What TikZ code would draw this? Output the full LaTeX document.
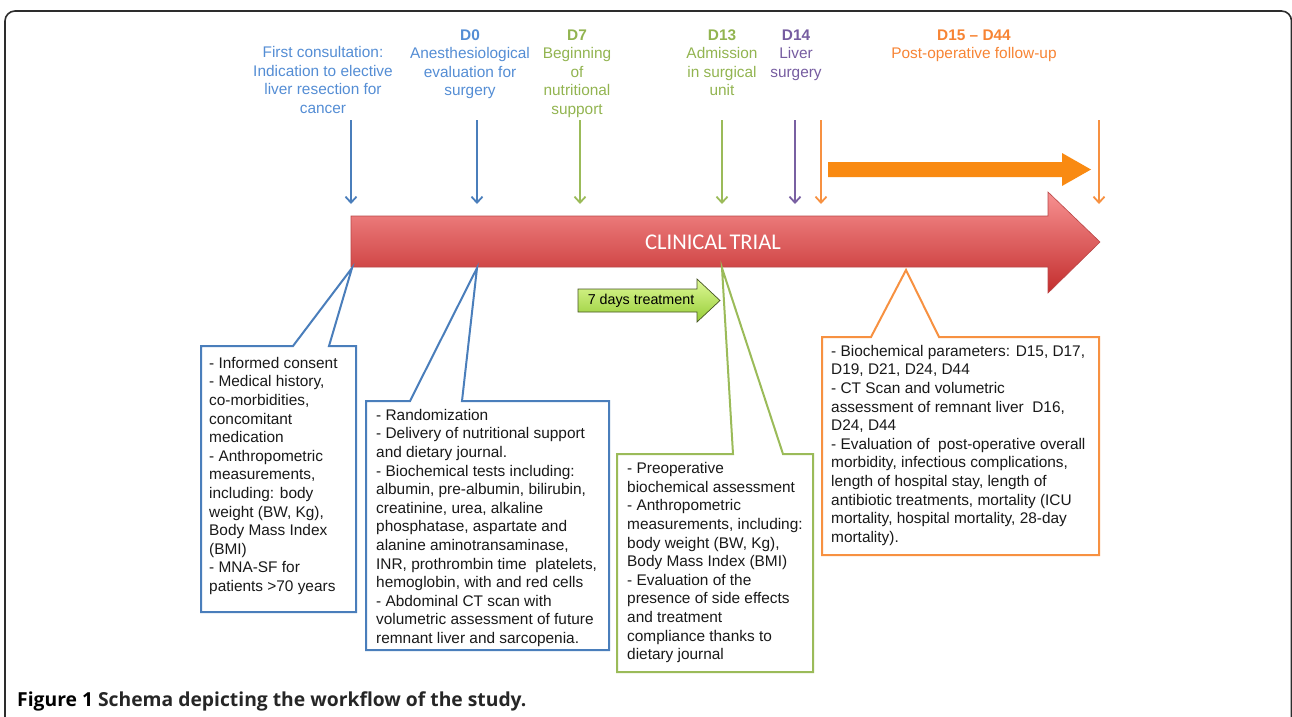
\documentclass[tikz,border=0pt]{standalone}
\usepackage{fontspec}
\setmainfont{Liberation Sans}
\newfontfamily\ctfont{Carlito}
\newfontfamily\capfont{Open Sans}
\usetikzlibrary{arrows.meta}
\definecolor{framec}{RGB}{45,45,45}
\definecolor{bl}{RGB}{74,126,187}
\definecolor{blt}{RGB}{84,141,212}
\definecolor{gr}{RGB}{155,187,89}
\definecolor{grt}{RGB}{146,180,80}
\definecolor{pu}{RGB}{121,96,162}
\definecolor{put}{RGB}{118,92,160}
\definecolor{orl}{RGB}{247,145,65}
\definecolor{ort}{RGB}{247,132,52}
\definecolor{orf}{RGB}{249,138,18}
\definecolor{redtop}{RGB}{247,145,145}
\definecolor{redbot}{RGB}{195,45,45}
\definecolor{redline}{RGB}{185,70,70}
\definecolor{grtop}{RGB}{222,248,150}
\definecolor{grbot}{RGB}{150,205,55}
\definecolor{grline}{RGB}{70,85,35}
\newcommand\lblsize{\fontsize{15.4}{18.6}\selectfont}
\tikzset{
  lbl/.style={font=\lblsize, align=center, inner sep=0pt, anchor=north},
  tick/.style={line width=1.8pt, -{Straight Barb[length=6pt,width=11pt]}},
  callout/.style={line width=2pt, fill=white, line join=miter},
  boxtxt/.style={font=\lblsize, align=left, inner sep=0pt, anchor=north west, text=black!90},
}
\begin{document}
\begin{tikzpicture}[x=1pt,y=-1pt]
\useasboundingbox (0,0) rectangle (1292,716);
\begin{scope}
\clip (0,0) rectangle (1292,716);
\draw[line width=1.6pt, draw=framec, rounded corners=10pt] (5,11) rectangle (1291.5,740);
\end{scope}

% top labels
\node[lbl, text=blt] (l0) at (323,46.1) {First consultation:\\Indication to elective\\liver resection for\\cancer};
\node[lbl, text=blt] (l1) at (470,29.2) {\textbf{D0}\\Anesthesiological\\evaluation for\\surgery};
\node[lbl, text=grt] (l2) at (577,29.2) {\textbf{D7}\\Beginning\\of\\nutritional\\support};
\node[lbl, text=grt] (l3) at (722,29.2) {\textbf{D13}\\Admission\\in surgical\\unit};
\node[lbl, text=put] (l4) at (796,29.2) {\textbf{D14}\\Liver\\surgery};
\node[lbl, text=ort] (l5) at (974,29.2) {\textbf{D15 – D44}\\Post-operative follow-up};

% tick arrows
\coordinate (a0s) at (351,120); \coordinate (a0e) at (351,204);
\coordinate (a1s) at (477,120); \coordinate (a1e) at (477,204);
\coordinate (a2s) at (580,120); \coordinate (a2e) at (580,204);
\coordinate (a3s) at (722,120); \coordinate (a3e) at (722,204);
\coordinate (a4s) at (795,120); \coordinate (a4e) at (795,204);
\coordinate (a5s) at (821,120); \coordinate (a5e) at (821,204);
\coordinate (a6s) at (1099,120); \coordinate (a6e) at (1099,204);
\draw[tick, bl] (a0s) -- (a0e);
\draw[tick, bl] (a1s) -- (a1e);
\draw[tick, gr] (a2s) -- (a2e);
\draw[tick, gr] (a3s) -- (a3e);
\draw[tick, pu] (a4s) -- (a4e);
\draw[tick, orl] (a5s) -- (a5e);
\draw[tick, orl] (a6s) -- (a6e);

% thick orange arrow
\fill[orf] (828,162) -- (1062,162) -- (1062,153) -- (1091,169.5) -- (1062,186) -- (1062,177) -- (828,177) -- cycle;

% clinical trial arrow
\shade[top color=redtop, bottom color=redbot, draw=redline, line width=0.6pt]
  (351,216) -- (1048,216) -- (1048,192) -- (1100,242) -- (1048,293) -- (1048,267) -- (351,267) -- cycle;
\node[font=\ctfont\fontsize{22.5}{26}\selectfont, text=white, inner sep=0pt] (ct) at (713,242) {CLINICAL\kern-2.5pt\ TRIAL};

\coordinate (t1) at (352,268);
\coordinate (t2) at (477,268);
\coordinate (t3) at (722,268);
\coordinate (t4) at (906,270);

% 7 days treatment arrow
\shade[top color=grtop, bottom color=grbot, draw=grline, line width=0.7pt]
  (578,289) -- (697,289) -- (697,279) -- (720,300.5) -- (697,322) -- (697,312) -- (578,312) -- cycle;
\node[font=\fontsize{14.3}{16}\selectfont, inner sep=0pt] (gt) at (641,300.5) {7 days treatment};

% callouts
\draw[callout, draw=bl] (201,346) -- (293,346) -- (t1) -- (329,346) -- (356,346) -- (356,612) -- (201,612) -- cycle;
\draw[callout, draw=bl] (366,401) -- (410,401) -- (t2) -- (462,401) -- (609,401) -- (609,650) -- (366,650) -- cycle;
\draw[callout, draw=gr] (617,454) -- (733,454) -- (t3) -- (783,454) -- (813,454) -- (813,672) -- (617,672) -- cycle;
\draw[callout, draw=orl] (822,337) -- (871,337) -- (t4) -- (939,337) -- (1099,337) -- (1099,555) -- (822,555) -- cycle;

\node[boxtxt] (b1) at (209,357) {- Informed consent\\- Medical history,\\co-morbidities,\\concomitant\\medication\\- Anthropometric\\measurements,\\including: body\\weight (BW, Kg),\\Body Mass Index\\(BMI)\\- MNA-SF for\\patients >70 years};
\node[boxtxt] (b2) at (376,409) {- Randomization\\- Delivery of nutritional support\\and dietary journal.\\- Biochemical tests including:\\albumin, pre-albumin, bilirubin,\\creatinine, urea, alkaline\\phosphatase, aspartate and\\alanine aminotransaminase,\\INR, prothrombin time\ \ platelets,\\hemoglobin, with and red cells\\- Abdominal CT scan with\\volumetric assessment of future\\remnant liver and sarcopenia.};
\node[boxtxt] (b3) at (627,462.4) {- Preoperative\\biochemical assessment\\- Anthropometric\\measurements, including:\\body weight (BW, Kg),\\Body Mass Index (BMI)\\- Evaluation of the\\presence of side effects\\and treatment\\compliance thanks to\\dietary journal};
\node[boxtxt] (b4) at (831,345) {- Biochemical parameters: D15, D17,\\D19, D21, D24, D44\\- CT Scan and volumetric\\assessment of remnant liver\ \ D16,\\D24, D44\\- Evaluation of\ \ post-operative overall\\morbidity, infectious complications,\\length of hospital stay, length of\\antibiotic treatments, mortality (ICU\\mortality, hospital mortality, 28-day\\mortality).};

% caption
\node[font=\capfont\bfseries\fontsize{19.3}{22}\selectfont, anchor=base west, inner sep=0pt, text=black!85] (cap) at (17,706) {\textcolor{black}{Figure 1} Schema depicting the workflow of the study.};
\end{tikzpicture}
\end{document}
